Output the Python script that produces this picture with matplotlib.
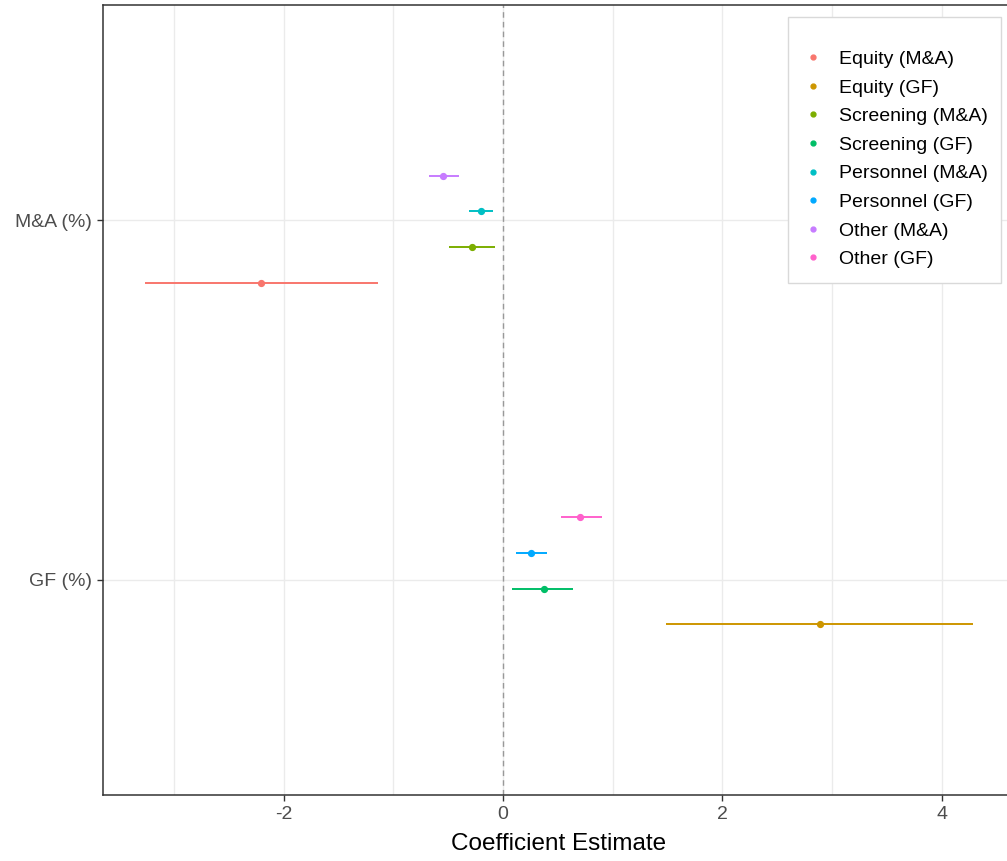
import matplotlib
matplotlib.use("Agg")
import matplotlib.pyplot as plt
from matplotlib.lines import Line2D
from matplotlib.patches import Rectangle
from matplotlib.ticker import FixedLocator

plt.rcParams['font.family'] = ['Liberation Sans', 'DejaVu Sans']
plt.rcParams['axes.unicode_minus'] = False

categories = ["GF (%)", "M&A (%)"]
series = ["Equity (M&A)", "Equity (GF)", "Screening (M&A)", "Screening (GF)",
          "Personnel (M&A)", "Personnel (GF)", "Other (M&A)", "Other (GF)"]
series_category = ["M&A (%)", "GF (%)", "M&A (%)", "GF (%)",
                   "M&A (%)", "GF (%)", "M&A (%)", "GF (%)"]
estimate = [-2.21, 2.89, -0.28, 0.37, -0.20, 0.255, -0.55, 0.705]
ci_low = [-3.27, 1.49, -0.49, 0.085, -0.31, 0.12, -0.68, 0.53]
ci_high = [-1.14, 4.29, -0.073, 0.64, -0.094, 0.40, -0.40, 0.90]
colors = ["#F8766D", "#CD9600", "#7CAE00", "#00BE67",
          "#00BFC4", "#00A9FF", "#C77CFF", "#FF61CC"]

W, H = 1007, 861
fig = plt.figure(figsize=(W / 100, H / 100), dpi=100)
ax = fig.add_axes([103/W, 1-795/H, 912/W, 790/H])

dodge_width = 0.4
n = len(series)
handles = []
for i, name in enumerate(series):
    base = categories.index(series_category[i]) + 1
    y = base + (i - (n - 1) / 2) * dodge_width / n
    ax.hlines(y, ci_low[i], ci_high[i], color=colors[i], lw=1.4, zorder=3)
    ax.plot(estimate[i], y, 'o', color=colors[i], ms=4.2, zorder=4)
    handles.append(Line2D([], [], ls='none', marker='o', ms=3.5,
                          color=colors[i], label=name))

ax.axvline(0, color='#999999', ls=(0, (4, 3)), lw=1.0, zorder=2)

ax.set_xlim(-3.65, 4.67)
ax.set_ylim(0.4, 2.6)
ax.set_yticks([1, 2])
ax.set_yticklabels(categories)
ax.xaxis.set_major_locator(FixedLocator([-2, 0, 2, 4]))
ax.xaxis.set_minor_locator(FixedLocator([-3, -1, 1, 3]))
ax.grid(True, which='major', color='#EBEBEB', lw=1.0, zorder=0)
ax.grid(True, which='minor', axis='x', color='#EBEBEB', lw=1.0, zorder=0)
ax.set_axisbelow(True)
ax.tick_params(axis='both', which='major', labelsize=14, labelcolor='#4D4D4D',
               color='#333333', length=4, width=1.0, pad=4)
ax.tick_params(axis='x', which='minor', length=0)
for s in ax.spines.values():
    s.set_color('#333333')
    s.set_linewidth(1.1)

ax.set_xlabel("Coefficient Estimate", fontsize=17.5, color='black', labelpad=7)

# legend box (frame drawn separately to match the reference size)
frame = Rectangle((788/W, 1-283/H), 213/W, 266/H, transform=fig.transFigure,
                  facecolor='white', edgecolor='#D9D9D9', lw=1.0, zorder=3)
fig.add_artist(frame)

leg = fig.legend(handles=handles, loc='upper left',
                 bbox_to_anchor=(786/W, 1-15/H),
                 fontsize=14, frameon=False, title=" ",
                 title_fontsize=5, handlelength=1.0, handletextpad=0.85,
                 labelspacing=0.565, borderpad=0.9, borderaxespad=0)
leg.set_zorder(5)

fig.savefig("out.png", dpi=100)
